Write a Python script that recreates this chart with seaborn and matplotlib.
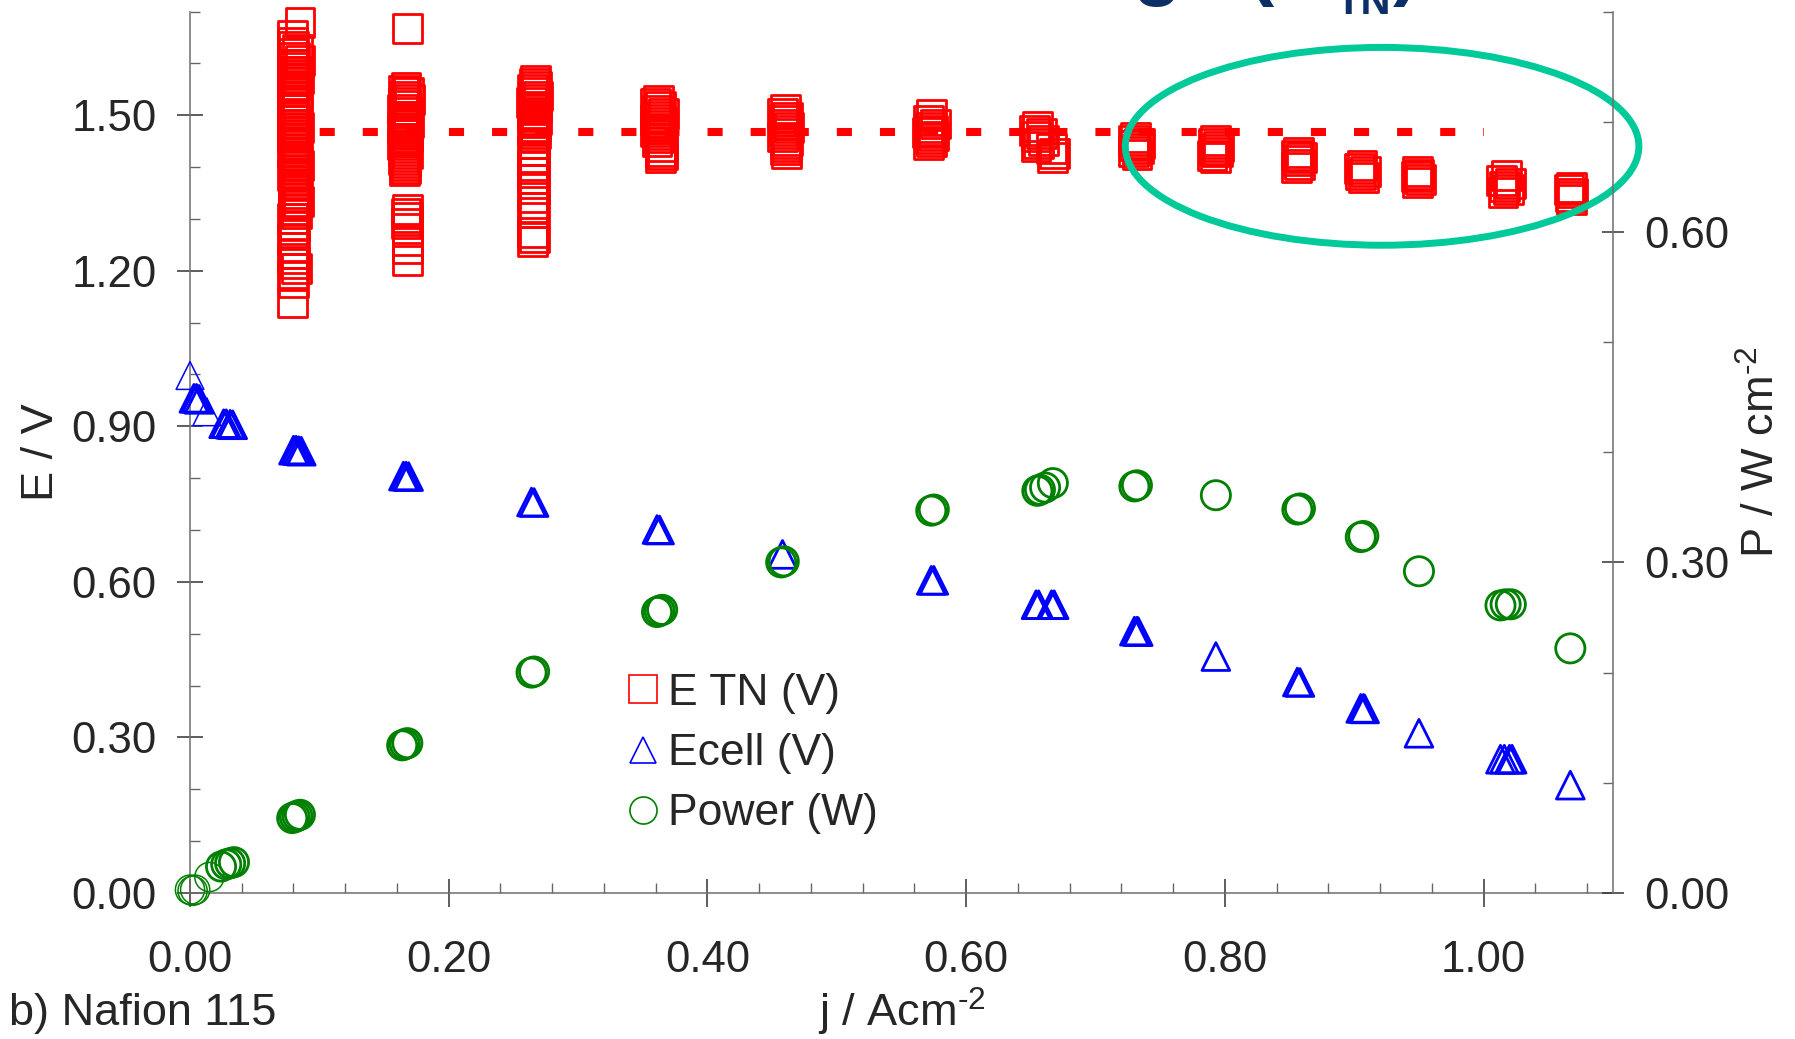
import numpy as np
import pandas as pd
import matplotlib
matplotlib.use("Agg")
import matplotlib.pyplot as plt
import seaborn as sns
from matplotlib.patches import Ellipse
from matplotlib.lines import Line2D
from matplotlib.ticker import MultipleLocator, FormatStrFormatter

# ---------------- data ----------------
# E TN (V) : repeated readings at each current density, (j, E)
etn_c1 = [(0.085,1.679),(0.079,1.653),(0.079,1.641),(0.080,1.633),(0.083,1.627),(0.079,1.619),(0.081,1.612),(0.085,1.606),
          (0.080,1.598),(0.079,1.592),(0.082,1.585),(0.080,1.579),(0.084,1.571),(0.079,1.566),(0.081,1.558),(0.080,1.551),
          (0.083,1.545),(0.079,1.537),(0.080,1.531),(0.082,1.524),(0.080,1.517),(0.079,1.511),(0.083,1.503),(0.080,1.497),
          (0.081,1.490),(0.079,1.483),(0.084,1.477),(0.080,1.469),(0.082,1.463),(0.079,1.456),(0.081,1.449),(0.083,1.443),
          (0.080,1.436),(0.079,1.429),(0.082,1.423),(0.080,1.416),(0.081,1.409),(0.084,1.403),(0.080,1.396),(0.082,1.388),
          (0.079,1.383),(0.081,1.375),(0.083,1.369),(0.080,1.364),(0.082,1.356),(0.081,1.348),(0.080,1.341),(0.084,1.334),
          (0.081,1.326),(0.080,1.319),(0.082,1.310),(0.079,1.300),(0.081,1.287),(0.080,1.274),(0.079,1.260),(0.081,1.245),
          (0.080,1.234),(0.079,1.223),(0.081,1.214),(0.082,1.204),(0.079,1.191),(0.080,1.178),(0.079,1.139)]
etn_c2 = [(0.168,1.667),(0.167,1.553),(0.165,1.548),(0.169,1.543),(0.166,1.537),(0.170,1.531),(0.165,1.524),(0.167,1.518),
          (0.164,1.511),(0.168,1.505),(0.166,1.498),(0.165,1.492),(0.169,1.486),(0.166,1.480),(0.164,1.474),(0.167,1.468),
          (0.165,1.462),(0.168,1.456),(0.166,1.450),(0.164,1.444),(0.167,1.438),(0.165,1.432),(0.168,1.426),(0.166,1.420),
          (0.165,1.414),(0.167,1.408),(0.166,1.402),(0.167,1.397),(0.166,1.393),(0.168,1.318),(0.167,1.311),(0.168,1.302),
          (0.167,1.292),(0.168,1.281),(0.168,1.258),(0.168,1.242),(0.168,1.220)]
etn_c3 = [(0.267,1.568),(0.266,1.562),(0.268,1.556),(0.265,1.549),(0.267,1.543),(0.269,1.537),(0.266,1.530),(0.264,1.524),
          (0.268,1.517),(0.266,1.511),(0.267,1.504),(0.265,1.498),(0.268,1.491),(0.266,1.485),(0.267,1.478),(0.265,1.471),
          (0.267,1.464),(0.266,1.457),(0.266,1.445),(0.265,1.432),(0.266,1.418),(0.265,1.403),(0.266,1.390),(0.265,1.377),
          (0.266,1.358),(0.265,1.342),(0.266,1.322),(0.265,1.313),(0.265,1.274),(0.266,1.265),(0.265,1.256)]
etn_c4 = [(0.362,1.528),(0.360,1.522),(0.364,1.516),(0.361,1.510),(0.366,1.504),(0.362,1.498),(0.360,1.492),(0.365,1.486),
          (0.361,1.480),(0.363,1.474),(0.360,1.468),(0.364,1.462),(0.362,1.456),(0.361,1.450),(0.365,1.440),(0.364,1.430),
          (0.365,1.424),(0.364,1.419)]
etn_c5 = [(0.460,1.511),(0.458,1.503),(0.462,1.496),(0.459,1.489),(0.461,1.482),(0.463,1.476),(0.459,1.470),(0.461,1.464),
          (0.458,1.458),(0.462,1.452),(0.460,1.446),(0.461,1.440),(0.460,1.433),(0.461,1.426)]
etn_c6 = [(0.573,1.501),(0.571,1.490),(0.576,1.483),(0.572,1.477),(0.574,1.471),(0.570,1.466),(0.575,1.460),(0.572,1.455),
          (0.573,1.449),(0.571,1.443)]
etn_c7 = [(0.655,1.478),(0.653,1.471),(0.658,1.465),(0.654,1.459),(0.660,1.452),(0.656,1.446),(0.654,1.439),(0.666,1.435),
          (0.668,1.427),(0.667,1.418)]
etn_c8 = [(0.731,1.457),(0.729,1.452),(0.734,1.446),(0.730,1.441),(0.733,1.436),(0.729,1.430),(0.732,1.424)]
etn_c9 = [(0.793,1.451),(0.791,1.446),(0.795,1.440),(0.792,1.434),(0.794,1.429),(0.790,1.423),(0.793,1.418)]
etn_c10 = [(0.857,1.428),(0.855,1.423),(0.859,1.418),(0.856,1.412),(0.858,1.405),(0.855,1.399)]
etn_c11 = [(0.906,1.403),(0.904,1.398),(0.909,1.392),(0.905,1.386),(0.907,1.380)]
etn_c12 = [(0.949,1.391),(0.950,1.386),(0.948,1.381),(0.951,1.376),(0.949,1.371)]
etn_c13 = [(1.018,1.383),(1.014,1.374),(1.021,1.368),(1.016,1.362),(1.019,1.357),(1.015,1.351)]
etn_c14 = [(1.068,1.361),(1.066,1.356),(1.069,1.350),(1.067,1.344),(1.068,1.338)]

# Ecell (V)
ecell_j = [0.003, 0.005, 0.007, 0.026, 0.028, 0.031, 0.033, 0.080, 0.082, 0.084, 0.086, 0.165, 0.167, 0.169,
           0.264, 0.266, 0.361, 0.363, 0.458, 0.573, 0.575, 0.654, 0.656, 0.666, 0.668, 0.730, 0.732, 0.733,
           0.793, 0.856, 0.858, 0.905, 0.907, 0.908, 0.950, 1.013, 1.016, 1.020, 1.022, 1.067]
ecell_v = [0.954, 0.954, 0.952, 0.905, 0.905, 0.904, 0.903, 0.854, 0.854, 0.853, 0.852, 0.804, 0.804, 0.803,
           0.754, 0.753, 0.701, 0.700, 0.653, 0.603, 0.603, 0.556, 0.556, 0.556, 0.556, 0.505, 0.505, 0.504,
           0.456, 0.407, 0.406, 0.356, 0.356, 0.355, 0.308, 0.258, 0.258, 0.258, 0.258, 0.208]
ecell_thin_j = [0.000, 0.013]
ecell_thin_v = [0.998, 0.928]

# Power (W cm-2), right axis
power_j = [0.024, 0.028, 0.031, 0.034, 0.079, 0.081, 0.083, 0.085, 0.164, 0.166, 0.168, 0.264, 0.266,
           0.361, 0.363, 0.365, 0.457, 0.459, 0.573, 0.575, 0.655, 0.657, 0.661, 0.667, 0.730, 0.732,
           0.793, 0.856, 0.858, 0.905, 0.907, 0.950, 1.013, 1.017, 1.021, 1.067]
power_w = [0.024, 0.026, 0.027, 0.028, 0.068, 0.069, 0.070, 0.071, 0.134, 0.135, 0.136, 0.200, 0.201,
           0.255, 0.256, 0.257, 0.300, 0.301, 0.347, 0.348, 0.365, 0.366, 0.368, 0.372, 0.369, 0.370,
           0.361, 0.348, 0.349, 0.323, 0.324, 0.292, 0.261, 0.262, 0.262, 0.222]
power_thin_j = [0.000, 0.002, 0.004, 0.015]
power_thin_w = [0.003, 0.002, 0.003, 0.0145]

# thermoneutral reference line
tn_j = [0.080, 1.000]
tn_v = [1.468, 1.468]

# highlight ellipse (data units of left axis)
ell_center = (0.9215, 1.440)
ell_width, ell_height = 0.397, 0.3815

legend_labels = ["E TN (V)", "Ecell (V)", "Power (W)"]
x_ticks = [0.0, 0.2, 0.4, 0.6, 0.8, 1.0]
yl_ticks = [0.0, 0.3, 0.6, 0.9, 1.2, 1.5]
yr_ticks = [0.0, 0.3, 0.6]

# ---------------- frames ----------------
etn_all = etn_c1 + etn_c2 + etn_c3 + etn_c4 + etn_c5 + etn_c6 + etn_c7 + etn_c8 + etn_c9 + etn_c10 + etn_c11 + etn_c12 + etn_c13 + etn_c14
df_etn = pd.DataFrame(etn_all, columns=["j", "E"])
df_ecell = pd.DataFrame({"j": ecell_j, "E": ecell_v})
df_ecell_thin = pd.DataFrame({"j": ecell_thin_j, "E": ecell_thin_v})
df_pow = pd.DataFrame({"j": power_j, "P": power_w})
df_pow_thin = pd.DataFrame({"j": power_thin_j, "P": power_thin_w})

# ---------------- style ----------------
sns.set_style("ticks")
plt.rcParams["font.family"] = ["Liberation Sans", "DejaVu Sans"]
plt.rcParams["mathtext.fontset"] = "custom"
plt.rcParams["mathtext.rm"] = "Liberation Sans"
plt.rcParams["mathtext.it"] = "Liberation Sans:italic"
plt.rcParams["mathtext.bf"] = "Liberation Sans:bold"
plt.rcParams["mathtext.default"] = "regular"

RED, BLUE, GREEN = "#ff0000", "#0000ff", "#008000"
SPINE = "#6e6e6e"
FS_TICK, FS_LAB = 31.5, 32.5

fig = plt.figure(figsize=(17.95, 10.39), dpi=100)
ax = fig.add_axes([0.10585, 0.14052, 0.79276, 0.84841])
ax2 = ax.twinx()

# reference line
sns.lineplot(x=tn_j, y=tn_v, ax=ax, color=RED, linewidth=5.8, zorder=1)
ax.lines[-1].set_linestyle((2.04, (1.875, 3.475)))
ax.lines[-1].set_dash_capstyle("butt")

# data
sc_kw = dict(facecolor="none", legend=False, zorder=3, clip_on=False)
sns.scatterplot(data=df_etn, x="j", y="E", ax=ax, marker="s", s=20.8**2,
                edgecolor=RED, linewidth=2.0, **sc_kw)
sns.scatterplot(data=df_ecell, x="j", y="E", ax=ax, marker="^", s=20**2,
                edgecolor=BLUE, linewidth=2.0, **sc_kw)
sns.scatterplot(data=df_ecell_thin, x="j", y="E", ax=ax, marker="^", s=20**2,
                edgecolor=BLUE, linewidth=1.1, **sc_kw)
sns.scatterplot(data=df_pow, x="j", y="P", ax=ax2, marker="o", s=21**2,
                edgecolor=GREEN, linewidth=2.0, **sc_kw)
sns.scatterplot(data=df_pow_thin, x="j", y="P", ax=ax2, marker="o", s=21**2,
                edgecolor=GREEN, linewidth=1.1, **sc_kw)

# highlight ellipse
ax.add_patch(Ellipse(ell_center, ell_width, ell_height, transform=ax.transData, fill=False,
                     edgecolor="#00c99a", linewidth=5, clip_on=False, zorder=6))

# axes limits and ticks
ax.set_xlim(0, 1.1)
ax.set_ylim(0, 1.7)
ax2.set_ylim(0, 0.8)
ax.set_xticks(x_ticks)
ax.set_yticks(yl_ticks)
ax2.set_yticks(yr_ticks)
ax.xaxis.set_minor_locator(MultipleLocator(0.04))
ax.yaxis.set_minor_locator(MultipleLocator(0.1))
ax2.yaxis.set_minor_locator(MultipleLocator(0.1))
for a in (ax.xaxis, ax.yaxis, ax2.yaxis):
    a.set_major_formatter(FormatStrFormatter("%.2f"))

ax.tick_params(axis="y", which="major", direction="inout", length=19.4, width=1.1, color="#333333",
               labelsize=FS_TICK, pad=14.5)
ax.tick_params(axis="x", which="major", direction="inout", length=20, width=1.1, color="#333333",
               labelsize=FS_TICK, pad=23.5)
ax.tick_params(axis="both", which="minor", direction="in", length=7.5, width=1.0, color="#666666")
ax2.tick_params(axis="y", which="major", direction="inout", length=16.5, width=1.1, color="#333333",
                labelsize=FS_TICK, pad=14.5)
ax2.tick_params(axis="y", which="minor", direction="in", length=7.2, width=1.0, color="#666666")

for s in ("top", "right"):
    ax.spines[s].set_visible(False)
for s in ("top", "left", "bottom"):
    ax2.spines[s].set_visible(False)
for sp in list(ax.spines.values()) + list(ax2.spines.values()):
    sp.set_color(SPINE)
    sp.set_linewidth(1.1)

# axis labels
ax.set_xlabel(r"j / Acm$^{\text{-2}}$", fontsize=FS_LAB, va="baseline")
ax.xaxis.set_label_coords(0.5, -0.152)
ax.set_ylabel("E / V", fontsize=FS_LAB, va="center")
ax.yaxis.set_label_coords(-0.1047, 0.5)
ax2.set_ylabel(r"P / W cm$^{\text{-2}}$", fontsize=FS_LAB, va="center", rotation=90)
ax2.yaxis.set_label_coords(1.1047, 0.5)

fig.text(9 / 1795, 1 - 1025 / 1039, "b) Nafion 115", fontsize=FS_LAB, ha="left", va="baseline")

# partially visible heading at the top edge (cut off in the original too)
NAVY = "#0b2f66"
fig.text(1327 / 1795, 1 + 9.6 / 1039, "Thermoneutral voltage (E", fontsize=57, fontweight="bold",
         color=NAVY, ha="right", va="baseline")
fig.text(1336 / 1795, 1 - 14 / 1039, "TN", fontsize=30, fontweight="bold", color=NAVY,
         ha="left", va="baseline")
fig.text(1393 / 1795, 1 + 9.6 / 1039, ")", fontsize=57, fontweight="bold", color=NAVY,
         ha="left", va="baseline")

# legend
handles = [
    Line2D([], [], linestyle="none", marker="s", markersize=19.7, markerfacecolor="none",
           markeredgecolor=RED, markeredgewidth=1.2),
    Line2D([], [], linestyle="none", marker="^", markersize=18.5, markerfacecolor="none",
           markeredgecolor=BLUE, markeredgewidth=1.2),
    Line2D([], [], linestyle="none", marker="o", markersize=19.5, markerfacecolor="none",
           markeredgecolor=GREEN, markeredgewidth=1.2),
]
ax2.legend(handles, legend_labels, loc="upper left", bbox_to_anchor=(624.9 / 1795, 1 - 673 / 1039),
           bbox_transform=fig.transFigure, frameon=False, fontsize=32, handlelength=0.8,
           handletextpad=0.175, labelspacing=0.43, borderpad=0, borderaxespad=0)

fig.savefig("out.png", dpi=100)
